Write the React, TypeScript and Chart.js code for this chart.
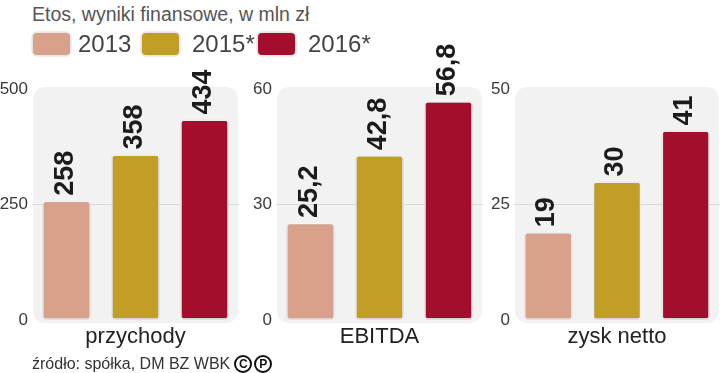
import { useEffect, useRef } from 'react';
import { Chart, registerables } from 'chart.js';

Chart.register(...registerables);

// ---- data ----
const years = ['2013', '2015*', '2016*'];
const metrics = ['przychody', 'EBITDA', 'zysk netto'];
const values2013 = [258, 25.2, 19];
const values2015 = [358, 42.8, 30];
const values2016 = [434, 56.8, 41];
const axisMax = [500, 60, 50];
const titleText = 'Etos, wyniki finansowe, w mln zł';
const sourceText = 'źródło: spółka, DM BZ WBK';

// ---- styles / layout ----
const seriesColors = ['#d9a08b', '#c19f26', '#a30e2c'];
const panelLeft = [0, 244, 482];
const panelWidth = [240, 240, 238];
const legendBoxLeft = [33, 142, 258];
const legendTextLeft = [78, 192, 308];
const canvasTop = 40;
const canvasHeight = 325;

const seriesValues = [values2013, values2015, values2016];

const fmt = (v: number) => String(v).replace('.', ',');

const bgPlugin = {
  id: 'panelBg',
  beforeDraw(chart: any) {
    const { ctx, chartArea: a } = chart;
    ctx.save();
    ctx.fillStyle = '#f2f2f2';
    ctx.beginPath();
    ctx.roundRect(a.left + 1, a.top - 2, a.right - a.left - 2, a.bottom - a.top + 5, 12);
    ctx.fill();
    ctx.restore();
  },
  beforeDatasetsDraw(chart: any) {
    const ctx = chart.ctx;
    ctx.save();
    ctx.shadowColor = 'rgba(0,0,0,0.3)';
    ctx.shadowBlur = 2;
    ctx.shadowOffsetX = 0;
    ctx.shadowOffsetY = 0.5;
  },
  afterDatasetsDraw(chart: any) {
    const ctx = chart.ctx;
    ctx.restore();
    ctx.save();
    ctx.fillStyle = '#1c1c1c';
    ctx.font = 'bold 27px "Liberation Sans Narrow", "Liberation Sans", sans-serif';
    ctx.textAlign = 'left';
    ctx.textBaseline = 'alphabetic';
    chart.data.datasets.forEach((ds: any, di: number) => {
      const meta = chart.getDatasetMeta(di);
      meta.data.forEach((bar: any, bi: number) => {
        const v = ds.data[bi];
        ctx.save();
        ctx.translate(bar.x + 6, bar.y - 5);
        ctx.rotate(-Math.PI / 2);
        ctx.fillText(fmt(v), 0, 0);
        ctx.restore();
      });
    });
    ctx.restore();
  },
};

function Panel({ index }: { index: number }) {
  const ref = useRef<HTMLCanvasElement>(null);
  useEffect(() => {
    if (!ref.current) return;
    const max = axisMax[index];
    const chart = new Chart(ref.current, {
      type: 'bar',
      data: {
        labels: [metrics[index]],
        datasets: years.map((y, k) => ({
          label: y,
          data: [seriesValues[k][index]],
          backgroundColor: seriesColors[k],
          borderColor: 'rgba(255,255,255,0.85)',
          borderWidth: 1.5,
          borderRadius: 3,
          borderSkipped: false,
          categoryPercentage: 1,
          barPercentage: 0.7,
        })),
      },
      options: {
        animation: false,
        responsive: false,
        maintainAspectRatio: false,
        events: [],
        layout: { padding: { top: 49, right: index === 2 ? 0 : 1, bottom: 0, left: 0 } },
        plugins: { legend: { display: false }, tooltip: { enabled: false } },
        scales: {
          x: {
            grid: { display: false },
            border: { display: false },
            ticks: {
              color: '#222',
              padding: -4,
              font: { family: '"Liberation Sans", Arial, sans-serif', size: 22 },
            },
            afterFit: (s: any) => {
              s.height = 45;
            },
          },
          y: {
            min: 0,
            max: max,
            ticks: {
              stepSize: max / 2,
              color: '#3a3a3a',
              padding: 4,
              font: { family: '"Liberation Sans", Arial, sans-serif', size: 17 },
            },
            grid: {
              drawTicks: false,
              color: (c: any) => (c.tick && c.tick.value === max / 2 ? '#d9d9d9' : 'rgba(0,0,0,0)'),
            },
            border: { display: false },
            afterFit: (s: any) => {
              s.width = 32;
            },
          },
        },
      },
      plugins: [bgPlugin],
    } as any);
    return () => chart.destroy();
  }, [index]);
  return (
    <canvas
      ref={ref}
      width={panelWidth[index]}
      height={canvasHeight}
      style={{ position: 'absolute', left: panelLeft[index], top: canvasTop, width: panelWidth[index], height: canvasHeight }}
    />
  );
}

export default function App() {
  const font = '"Liberation Sans", Arial, sans-serif';
  return (
    <div
      style={{
        position: 'fixed',
        left: 0,
        top: 0,
        width: 720,
        height: 373,
        overflow: 'hidden',
        background: '#fff',
        fontFamily: font,
      }}
    >
      {metrics.map((m, i) => (
        <Panel key={m} index={i} />
      ))}
      <div style={{ position: 'absolute', left: 32, top: 1, fontSize: 19.5, color: '#555', whiteSpace: 'nowrap', lineHeight: '26px' }}>
        {titleText}
      </div>
      {years.map((y, k) => (
        <div key={y}>
          <div
            style={{
              position: 'absolute',
              left: legendBoxLeft[k],
              top: 33,
              width: 37,
              height: 22,
              borderRadius: 4,
              background: seriesColors[k],
              boxShadow: '0 0 0 1.5px #e6e6e6, 0 0 2px 1px rgba(0,0,0,0.15)',
            }}
          />
          <div
            style={{
              position: 'absolute',
              left: legendTextLeft[k],
              top: 29,
              fontSize: 24,
              lineHeight: '30px',
              color: '#444',
              whiteSpace: 'nowrap',
            }}
          >
            {y}
          </div>
        </div>
      ))}
      <div
        style={{
          position: 'absolute',
          left: 32,
          top: 354,
          fontSize: 16,
          lineHeight: '20px',
          color: '#333',
          whiteSpace: 'nowrap',
          display: 'flex',
          alignItems: 'center',
        }}
      >
        <span>{sourceText}</span>
        {['C', 'P'].map((c, j) => (
          <span
            key={c}
            style={{
              display: 'inline-flex',
              alignItems: 'center',
              justifyContent: 'center',
              boxSizing: 'border-box',
              width: 18,
              height: 18,
              border: '2.5px solid #111',
              borderRadius: '50%',
              marginLeft: j === 0 ? 4 : 2,
              fontSize: 12,
              fontWeight: 'bold',
              color: '#111',
              lineHeight: '13px',
            }}
          >
            {c}
          </span>
        ))}
      </div>
    </div>
  );
}
